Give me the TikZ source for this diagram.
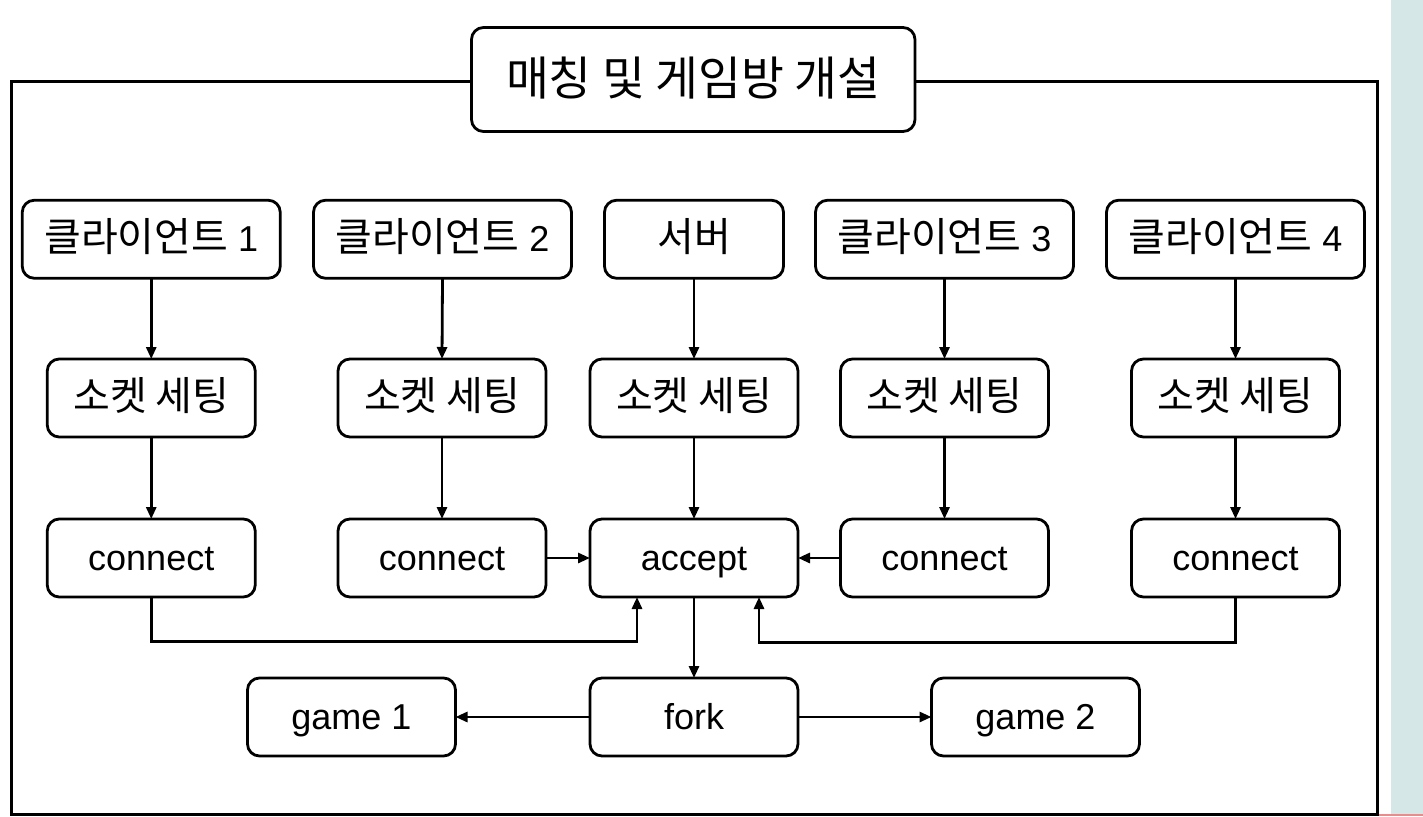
\documentclass[tikz,border=0pt]{standalone}
\usepackage{fontspec}
\setmainfont{Liberation Sans}
\newfontfamily\kr[Scale=1.11]{Noto Sans CJK KR}
\usetikzlibrary{arrows.meta}
\definecolor{stripc}{HTML}{D5E7E7}
\definecolor{redline}{HTML}{EE8A8A}
\begin{document}
\begin{tikzpicture}[x=1pt,y=-1pt,
  box/.style={draw,line width=2.8pt,rounded corners=12pt,inner sep=0pt,outer sep=0pt,
    minimum height=78pt,font=\fontsize{36}{40}\selectfont,text height=28pt,text depth=3pt},
  wide/.style={box,minimum width=258pt},
  mid/.style={box,minimum width=208pt},
  conn/.style={line width=2.8pt},
  arr/.style={conn,-{Triangle[length=12pt,width=10pt]}}]
\useasboundingbox (0,0) rectangle (1423,816);
\fill[white] (0,0) rectangle (1423,816);
\fill[stripc] (1391,0) rectangle (1423,816);
\fill[redline] (1378,814) rectangle (1423,816);
% frame
\draw[line width=3pt] (11.5,81.5) rectangle (1377.5,814);
% title
\node[box,fill=white,minimum width=443.5pt,minimum height=104pt,font=\fontsize{42}{48}\selectfont,text height=34pt,text depth=2pt] (title) at (693.25,79.5) {\kr 매칭 및 게임방 개설};
% row 1
\node[wide] (c1) at (151.25,239.25) {{\kr 클라이언트} 1};
\node[wide] (c2) at (442.5,239.25) {{\kr 클라이언트} 2};
\node[box,minimum width=179pt] (srv) at (694,239.25) {\kr 서버};
\node[wide] (c3) at (944.5,239.25) {{\kr 클라이언트} 3};
\node[wide] (c4) at (1235.5,239.25) {{\kr 클라이언트} 4};
% row 2
\node[mid] (s1) at (151.25,398) {\kr 소켓 세팅};
\node[mid] (s2) at (442,398) {\kr 소켓 세팅};
\node[mid] (s3) at (694,398) {\kr 소켓 세팅};
\node[mid] (s4) at (944.5,398) {\kr 소켓 세팅};
\node[mid] (s5) at (1235.5,398) {\kr 소켓 세팅};
% row 3
\node[mid] (k1) at (151.25,558) {connect};
\node[mid] (k2) at (442,558) {connect};
\node[mid] (acc) at (694,558) {accept};
\node[mid] (k3) at (944.5,558) {connect};
\node[mid] (k4) at (1235.5,558) {connect};
% row 4
\node[mid] (g1) at (351.5,717) {game 1};
\node[mid] (fork) at (694,717) {fork};
\node[mid] (g2) at (1035.5,717) {game 2};
% vertical arrows
\foreach \a/\b in {c1/s1,c2/s2,srv/s3,c3/s4,c4/s5,s1/k1,s2/k2,s3/acc,s4/k3,s5/k4,acc/fork}
  \draw[arr] (\a.south) -- (\b.north);
% horizontal arrows
\draw[arr] (k2.east) -- (acc.west);
\draw[arr] (k3.west) -- (acc.east);
\draw[arr] (fork.west) -- (g1.east);
\draw[arr] (fork.east) -- (g2.west);
% bottom connectors
\coordinate (j1) at (637,641.5);
\coordinate (j2) at (759,642.5);
\draw[arr] (k1.south) |- (j1) -- (j1 |- acc.south);
\draw[arr] (k4.south) |- (j2) -- (j2 |- acc.south);
\end{tikzpicture}
\end{document}
